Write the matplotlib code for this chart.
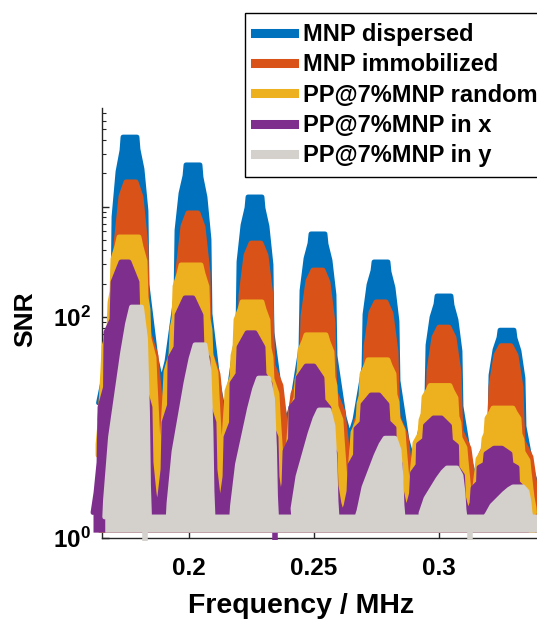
import numpy as np
import matplotlib
matplotlib.use("Agg")
import matplotlib.pyplot as plt
from matplotlib.lines import Line2D
from matplotlib.ticker import FixedLocator, FuncFormatter, LogLocator, NullFormatter

plt.rcParams['font.family'] = ['Liberation Sans', 'DejaVu Sans']
plt.rcParams['font.weight'] = 'bold'
plt.rcParams['mathtext.fontset'] = 'custom'
plt.rcParams['mathtext.rm'] = 'Liberation Sans:bold'
plt.rcParams['mathtext.bf'] = 'Liberation Sans:bold'
plt.rcParams['mathtext.it'] = 'Liberation Sans:bold'

# ---------------- data ----------------
series_names = ["MNP dispersed", "MNP immobilized", "PP@7%MNP random",
                "PP@7%MNP in x", "PP@7%MNP in y"]

# harmonic peak frequencies in MHz, per series
freq_dispersed = [0.1764, 0.2016, 0.2264, 0.2516, 0.2768, 0.3020, 0.3272]
freq_immobilized = [0.1768, 0.2016, 0.2268, 0.2516, 0.2768, 0.3020, 0.3268]
freq_random = [0.1760, 0.2008, 0.2252, 0.2508, 0.2756, 0.3004, 0.3256]
freq_in_x = [0.1744, 0.2000, 0.2248, 0.2484, 0.2744, 0.2994, 0.3236]
freq_in_y = [0.1790, 0.2044, 0.2298, 0.2540, 0.2804, 0.3052, 0.3316]

# SNR at each harmonic peak
peak_dispersed = [4250, 2380, 1220, 565, 315, 155, 76]
peak_immobilized = [1670, 875, 467, 266, 137, 81, 55]
peak_random = [530, 296, 137, 69, 41, 24, 15]
peak_in_x = [315, 149, 72, 36, 19.7, 12.2, 6.5]
peak_in_y = [123, 56, 28, 14.4, 8.0, 4.3, 2.9]

# SNR at the minima (left edge, between harmonics, right edge)
valley_dispersed = [16.7, 25.3, 13.5, 11.0, 8.2, 5.1, 3.35, 2.7]
valley_immobilized = [11.7, 9.5, 7.2, 6.7, 3.9, 2.55, 2.2, 2.0]
valley_random = [5.6, 3.5, 3.35, 3.0, 2.0, 2.2, 1.8, 1.7]
valley_in_x = [1.7, 1.7, 1.7, 1.7, 1.6, 1.7, 1.55, 1.55]
valley_in_y = [1.55, 1.55, 1.55, 1.55, 1.55, 1.55, 1.55, 1.55]

noise_floor = 1.13

# isolated noise dips that poke below the axis line
dip_freq_in_y = [0.1824, 0.3124]
dip_snr_in_y = [0.93, 0.95]
dip_freq_in_x = [0.2344]
dip_snr_in_x = [0.95]

colors = ["#0072BD", "#D95319", "#EDB120", "#7E2F8E", "#D4D1CC"]

# ---------------- peak shape templates (style) ----------------
# (half-width in MHz, fraction of the drop from peak to valley in log space)
tpl_blue = [(0.0028, 0.0), (0.0032, 0.05), (0.0048, 0.13), (0.0064, 0.30),
            (0.0068, 0.60), (0.0092, 0.80), (0.0104, 0.90)]
tpl_orange = [(0.0020, 0.0), (0.0040, 0.06), (0.0060, 0.26), (0.0064, 0.46),
              (0.0068, 0.60), (0.0100, 0.70), (0.0112, 0.83), (0.0120, 0.92)]
tpl_yellow = [(0.0040, 0.0), (0.0048, 0.04), (0.0064, 0.10), (0.0068, 0.25),
              (0.0076, 0.30), (0.0080, 0.42), (0.0100, 0.50), (0.0104, 0.60),
              (0.0116, 0.85), (0.0124, 0.95)]
tpl_purple = [(0.0016, 0.0), (0.0028, 0.03), (0.0048, 0.08), (0.0052, 0.23),
              (0.0076, 0.28), (0.0078, 0.50), (0.0100, 0.58), (0.0104, 0.80),
              (0.0116, 0.92)]
tpl_gray_left = [(0.0020, 0.0), (0.0036, 0.08), (0.0056, 0.22), (0.0080, 0.42),
                 (0.0104, 0.62), (0.0116, 0.80), (0.0124, 0.92)]
tpl_gray_right = [(0.0020, 0.0), (0.0036, 0.15), (0.0044, 0.50), (0.0048, 0.85),
                  (0.0052, 1.0)]


def envelope(centers, tops, valleys, left_tpl, right_tpl):
    c = list(centers)
    vpos = [c[0] - (c[1] - c[0]) / 2]
    vpos += [(a + b) / 2 for a, b in zip(c[:-1], c[1:])]
    vpos += [c[-1] + (c[-1] - c[-2]) / 2]
    xs, ys = [vpos[0]], [valleys[0]]
    for k in range(len(c)):
        lt = np.log10(tops[k])
        lv = np.log10(valleys[k])
        rv = np.log10(valleys[k + 1])
        for hw, fr in reversed(left_tpl):
            xs.append(c[k] - hw)
            ys.append(10 ** (lt - fr * (lt - lv)))
        for hw, fr in right_tpl:
            xs.append(c[k] + hw)
            ys.append(10 ** (lt - fr * (lt - rv)))
        xs.append(vpos[k + 1])
        ys.append(valleys[k + 1])
    return np.array(xs), np.array(ys)


series = [
    (freq_dispersed, peak_dispersed, valley_dispersed, tpl_blue, tpl_blue),
    (freq_immobilized, peak_immobilized, valley_immobilized, tpl_orange, tpl_orange),
    (freq_random, peak_random, valley_random, tpl_yellow, tpl_yellow),
    (freq_in_x, peak_in_x, valley_in_x, tpl_purple, tpl_purple),
    (freq_in_y, peak_in_y, valley_in_y, tpl_gray_left, tpl_gray_right),
]

W, H = 537, 622
fig = plt.figure(figsize=(W / 100, H / 100), dpi=100)
ax_left, ax_right, ax_top, ax_bot = 101.7, 555, 108, 538
ax = fig.add_axes([ax_left / W, 1 - ax_bot / H, (ax_right - ax_left) / W, (ax_bot - ax_top) / H])

x_left = 0.1244 + 0.0004 * ax_left
x_right = 0.1244 + 0.0004 * ax_right
y_top = 10 ** ((ax_bot - ax_top) / 110.5)

for i, (fr, pk, vl, lt, rt) in enumerate(series):
    xs, ys = envelope(fr, pk, vl, lt, rt)
    ax.fill_between(xs, noise_floor, ys, color=colors[i], lw=0, zorder=3 + i, clip_on=False)
    ax.plot(xs, ys, color=colors[i], lw=3.5, solid_joinstyle='round',
            solid_capstyle='round', zorder=3 + i, clip_on=False)

ax.vlines(dip_freq_in_x, dip_snr_in_x, noise_floor, color=colors[3], lw=4,
          zorder=6, clip_on=False)
ax.vlines(dip_freq_in_y, dip_snr_in_y, noise_floor, color=colors[4], lw=4,
          zorder=7, clip_on=False)

ax.set_yscale('log')
ax.set_xlim(x_left, x_right)
ax.set_ylim(1, y_top)

for s in ['top', 'right']:
    ax.spines[s].set_visible(False)
for s in ['left', 'bottom']:
    ax.spines[s].set_linewidth(1.0)
    ax.spines[s].set_color('#262626')
    ax.spines[s].set_zorder(2)

ax.xaxis.set_major_locator(FixedLocator([0.2, 0.25, 0.3]))
ax.xaxis.set_major_formatter(FuncFormatter(lambda v, p: f"{v:g}"))
ax.yaxis.set_major_locator(FixedLocator([1, 10, 100, 1000]))
ax.yaxis.set_major_formatter(FuncFormatter(
    lambda v, p: {1: r'$10^{0}$', 100: r'$10^{2}$'}.get(int(round(v)), '')))
ax.yaxis.set_minor_locator(LogLocator(base=10, subs=np.arange(2, 10), numticks=20))
ax.yaxis.set_minor_formatter(NullFormatter())
ax.tick_params(axis='both', which='major', direction='in', length=5, width=1,
               labelsize=17.5, color='#262626')
ax.tick_params(axis='y', which='minor', direction='in', length=3, width=0.8, color='#262626')
ax.tick_params(axis='x', which='major', pad=14)
ax.tick_params(axis='y', which='major', pad=8)

ax.set_xlabel('Frequency / MHz', fontsize=20.5, fontweight='bold')
ax.xaxis.set_label_coords((301 - ax_left) / (ax_right - ax_left), -0.128)
ax.set_ylabel('SNR', fontsize=19, fontweight='bold')
ax.yaxis.set_label_coords((37 - ax_left) / (ax_right - ax_left), 0.51)

handles = [Line2D([], [], color=colors[i], lw=6.5) for i in range(5)]
fig.legend(handles, series_names, loc='upper left',
           bbox_to_anchor=(245 / W, 1 - 13 / H), bbox_transform=fig.transFigure,
           fontsize=17, frameon=True, fancybox=False, edgecolor='black',
           framealpha=1, borderpad=0.42, labelspacing=0.31, handlelength=1.65,
           handletextpad=0.4, borderaxespad=0)

fig.savefig('out.png', dpi=100)
